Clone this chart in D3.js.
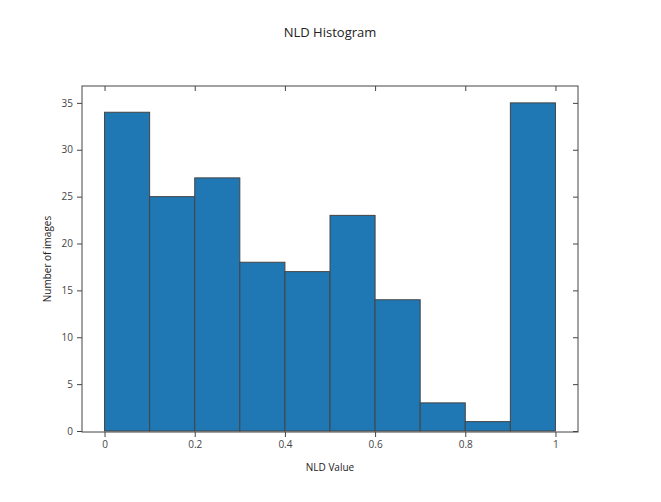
<!DOCTYPE html><html><head><meta charset="utf-8">
<script src="https://cdn.jsdelivr.net/npm/d3@7"></script>
<style>body{margin:0;background:#fff}text{font-family:"Open Sans",sans-serif}</style></head><body>
<svg id="c" width="661" height="502"></svg>
<script>
const binStarts=[0,0.1,0.2,0.3,0.4,0.5,0.6,0.7,0.8,0.9];
const counts=[34,25,27,18,17,23,14,3,1,35];
const xTicks=[0,0.2,0.4,0.6,0.8,1];
const yTicks=[0,5,10,15,20,25,30,35];
const svg=d3.select("#c");
const L=82,R=578,T=86,B=432;
const x=d3.scaleLinear().domain([-0.05,1.05]).range([L,R]);
const y=d3.scaleLinear().domain([0,36.8]).range([B-1,T]);
const g=svg.append("g");
g.selectAll("rect").data(binStarts).join("rect")
 .attr("x",d=>x(d)).attr("width",d=>x(d+0.1)-x(d))
 .attr("y",(d,i)=>y(counts[i])).attr("height",(d,i)=>y(0)-y(counts[i]))
 .attr("fill","#1f77b4").attr("stroke","#444").attr("stroke-width",1);
svg.append("rect").attr("x",L).attr("y",T).attr("width",R-L).attr("height",B-T).attr("fill","none").attr("stroke","#444");
const fmt=d=>d===0?"0":d===1?"1":String(d).replace(/^0/,"");
const ax=(sel,o)=>{sel.selectAll("text").attr("fill","#444").style("font-size","10px");sel.selectAll("line").attr("stroke","#444");sel.select(".domain").remove();};
svg.append("g").attr("transform",`translate(0,${B})`).call(d3.axisBottom(x).tickValues(xTicks).tickSize(5).tickPadding(4).tickFormat(d=>d===0?"0":d===1?"1":d3.format(".1f")(d))).call(ax);
svg.append("g").attr("transform",`translate(${L},0)`).call(d3.axisLeft(y).tickValues(yTicks).tickSize(5).tickPadding(4)).call(ax);
svg.append("g").attr("transform",`translate(0,${T})`).call(d3.axisBottom(x).tickValues(xTicks).tickSize(5).tickFormat("")).call(ax);
svg.append("g").attr("transform",`translate(${R},0)`).call(d3.axisLeft(y).tickValues(yTicks).tickSize(5).tickFormat("")).call(ax);
svg.append("text").attr("x",330).attr("y",37).attr("text-anchor","middle").style("font-size","13px").attr("fill","#222").text("NLD Histogram");
svg.append("text").attr("x",330).attr("y",471).attr("text-anchor","middle").style("font-size","10px").attr("fill","#222").text("NLD Value");
svg.append("text").attr("transform","translate(51,259) rotate(-90)").attr("text-anchor","middle").style("font-size","10px").attr("fill","#222").text("Number of images");
</script></body></html>
